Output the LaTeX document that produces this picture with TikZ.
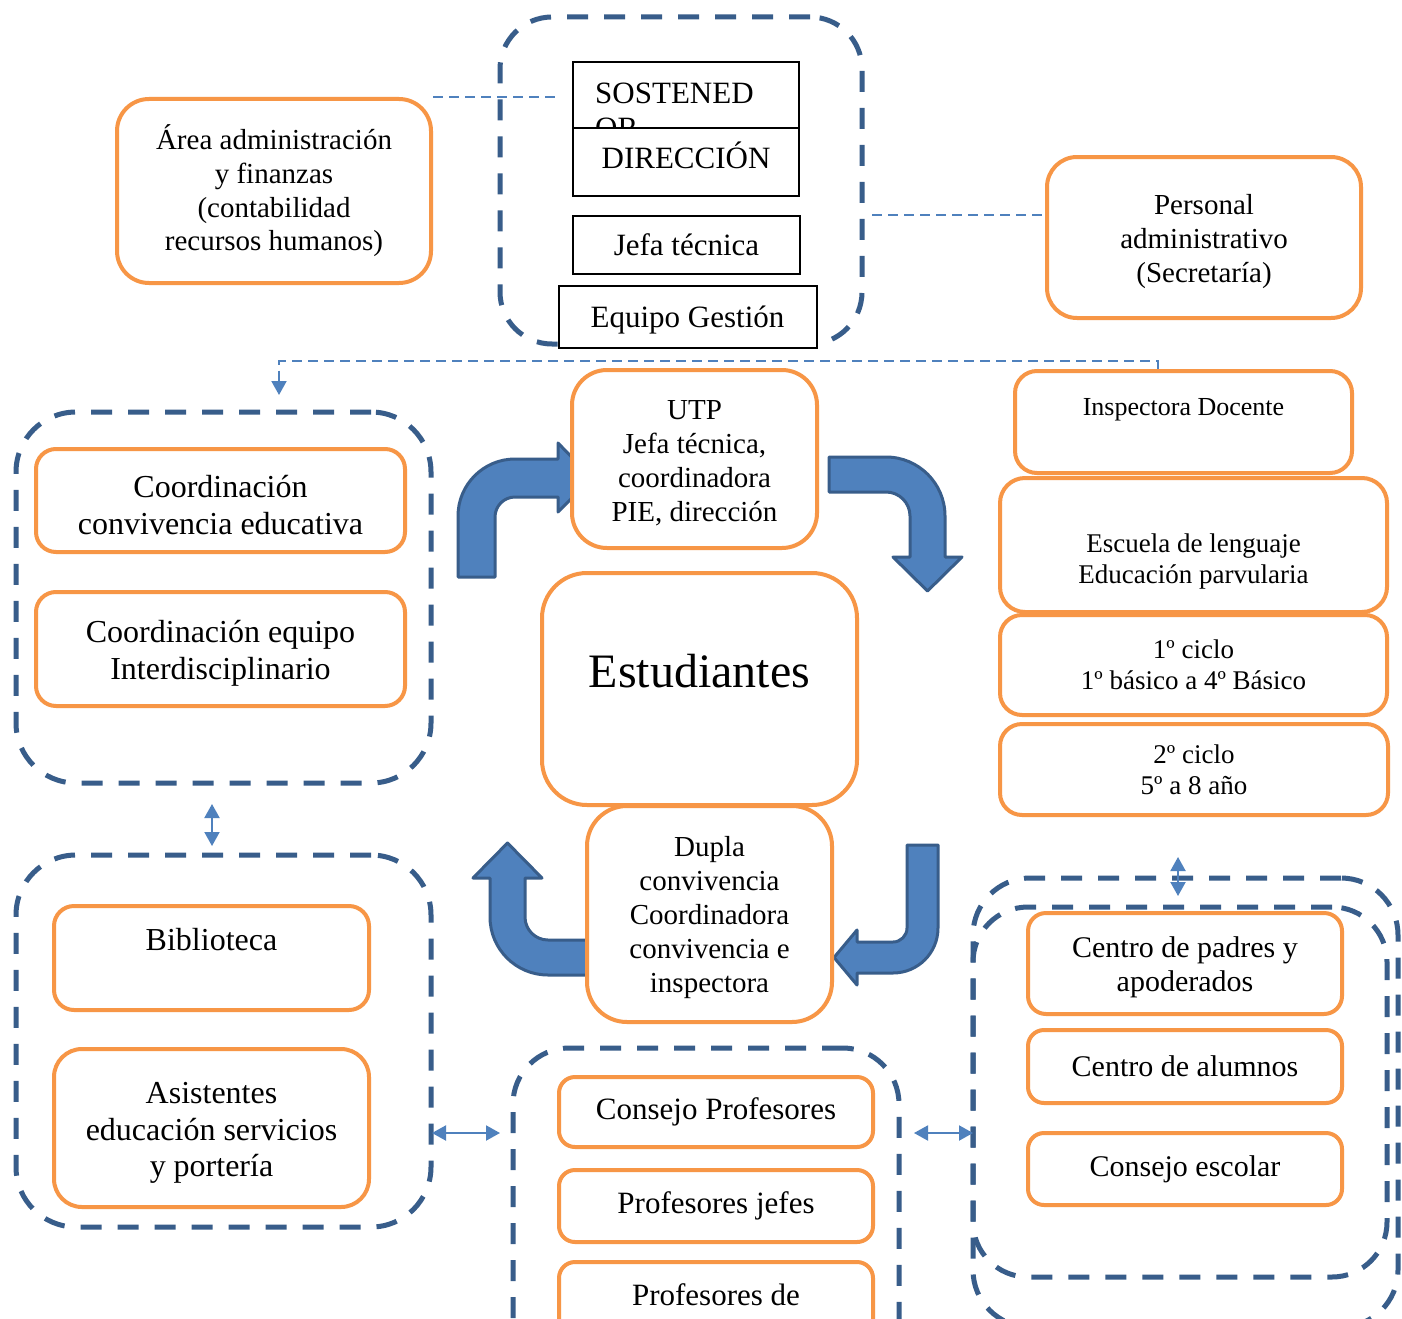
\documentclass[tikz,border=0pt]{standalone}
\usepackage{fontspec}
\setmainfont{Liberation Serif}
\usetikzlibrary{arrows.meta}

\definecolor{naranja}{HTML}{F79646}
\definecolor{azul}{HTML}{4F81BD}
\definecolor{azulosc}{HTML}{385D8A}
\newcommand\fsz[2]{\fontsize{#1}{#2}\selectfont}
\newcommand\sube{\rule{0pt}{0.97em}}

\tikzset{
  caja/.style={draw=naranja, line width=4pt, fill=white, rounded corners=#1, align=center, inner sep=0pt},
  cajanegra/.style={draw=black, line width=2pt, fill=white, inner sep=0pt},
  grupo/.style={draw=azulosc, line width=5pt, dash pattern=on 21pt off 16pt, rounded corners=#1, inner sep=0pt, outer sep=0pt},
  enlace/.style={draw=azul, line width=2pt, dash pattern=on 10pt off 6pt},
  doble/.style={draw=azul, line width=2pt, {Triangle[width=15pt,length=14pt]}-{Triangle[width=15pt,length=14pt]}},
  flecha/.style={fill=azul, draw=azulosc, line width=3pt, line join=round},
  tam/.style 2 args={minimum width=#1pt, minimum height=#2pt}
}

\begin{document}
\begin{tikzpicture}[x=1pt, y=-1pt]
  \useasboundingbox (0,0) rectangle (1402,1319);
  \clip (0,0) rectangle (1402,1319);
  \fill[white] (0,0) rectangle (1402,1319);

  % Recuadros discontinuos
  \node[grupo=52pt, tam={362}{327}] (cont0) at (681,180.5) {};
  \node[grupo=60pt, tam={415}{371}] (cont1) at (223.5,597.5) {};
  \node[grupo=60pt, tam={415}{372}] (cont2) at (223.5,1041) {};
  \node[grupo=56pt, tam={386}{352}] (cont3) at (706,1224) {};
  \node[grupo=57pt, tam={425}{449}] (cont4o) at (1185.5,1102.5) {};
  \node[grupo=55pt, tam={414}{370}] (cont4i) at (1180,1092) {};

  % Direccion (cajas negras)
  \node[cajanegra, tam={226}{66}] (sost) at (686,95) {};
  \node[anchor=north west, align=left, inner sep=0pt, font=\fsz{31}{35.6}] (sosttxt) at (595,82.5) {SOSTENED\\OR};
  \node[cajanegra, tam={226}{68}, font=\fsz{31}{35.6}, text height=26pt, text depth=14pt] (dir) at (686,162) {DIRECCIÓN};
  \node[cajanegra, tam={227}{58}, font=\fsz{31}{35.6}] (jefa) at (686.5,245) {Jefa técnica};
  \node[cajanegra, tam={258}{62}, font=\fsz{31}{35.6}, text height=24pt, text depth=4pt] (equipo) at (687.5,317) {Equipo Gestión};

  % Cajas laterales de arriba
  \node[caja=32pt, tam={314}{184}, font=\fsz{29}{33.6}] (area) at (274,191) {Área administración\\y finanzas\\(contabilidad\\recursos humanos)};
  \node[caja=30pt, tam={314}{161}, font=\fsz{29}{33.6}] (personal) at (1204,237.5) {\sube Personal\\administrativo\\(Secretaría)};

  % Lineas punteadas
  \draw[enlace] (area.north east) -- ([xshift=-14pt]sost.west |- area.north east);
  \draw[enlace] ([xshift=10pt]cont0.east |- jefa.north) -- (personal.west |- jefa.north);

  % Flechas curvas
  \draw[flecha] (458,577) -- (458,516) arc[start angle=180, end angle=90, radius=57pt]
    -- (558,459) -- (558,443) -- (592,478) -- (558,512) -- (558,497) -- (515,497)
    arc[start angle=90, end angle=180, radius=20pt] -- (495,577) -- cycle;
  \draw[flecha] (829,457) -- (886,457) arc[start angle=90, end angle=0, radius=59pt]
    -- (945,557) -- (962,557) -- (927.5,591) -- (893,557) -- (910,557) -- (910,516)
    arc[start angle=0, end angle=90, radius=24pt] -- (829,492) -- cycle;
  \draw[flecha] (600,975) -- (548,975) arc[start angle=270, end angle=180, radius=58pt]
    -- (490,878) -- (473,878) -- (507.5,843) -- (542,878) -- (525,878) -- (525,917)
    arc[start angle=180, end angle=270, radius=23pt] -- (600,940) -- cycle;
  \draw[flecha] (907,845) -- (938,845) -- (938,928) arc[start angle=0, end angle=-90, radius=45pt]
    -- (857,973) -- (857,985) -- (834,957.5) -- (857,930) -- (857,942) -- (893,942)
    arc[start angle=-90, end angle=0, radius=14pt] -- cycle;

  % Centro
  \node[caja=35pt, tam={245}{178}, font=\fsz{29}{34}] (utp) at (694.5,459) {\sube UTP\\Jefa técnica,\\coordinadora\\PIE, dirección};
  \node[caja=45pt, tam={315}{232}, font=\fsz{48}{55}, text height=34pt, text depth=38pt] (estud) at (699.5,689) {Estudiantes};
  \node[caja=40pt, tam={245}{216}, font=\fsz{29}{34}] (dupla) at (709.5,914) {\sube Dupla\\convivencia\\Coordinadora\\convivencia e\\inspectora};

  % Izquierda
  \node[caja=20pt, tam={369}{103}, font=\fsz{32}{36.8}] (coordconv) at (220.5,500.5) {\sube Coordinación\\convivencia educativa};
  \node[caja=20pt, tam={369}{114}, font=\fsz{32}{36.8}] (coordeq) at (220.5,649) {\sube Coordinación equipo\\Interdisciplinario};
  \node[caja=20pt, tam={315}{104}, font=\fsz{32}{36.8}] (biblio) at (211.5,958) {Biblioteca\\\mbox{}};
  \node[caja=28pt, tam={315}{158}, font=\fsz{32}{36.8}] (asist) at (211.5,1128) {\sube Asistentes\\educación servicios\\y portería};

  % Derecha
  \node[caja=22pt, tam={337}{102}, font=\fsz{26}{30}] (insp) at (1183.5,422) {Inspectora Docente\\\mbox{}};
  \node[caja=25pt, tam={387}{134}, font=\fsz{27}{31}] (escuela) at (1193.5,545) {\strut\\Escuela de lenguaje\\Educación parvularia};
  \node[caja=22pt, tam={387}{100}, font=\fsz{27}{31}] (ciclo1) at (1193.5,665) {1º ciclo\\1º básico a 4º Básico};
  \node[caja=22pt, tam={388}{91}, font=\fsz{27}{31}] (ciclo2) at (1194,769.5) {2º ciclo\\5º a 8 año};

  % Abajo
  \node[caja=16pt, tam={314}{70}, font=\fsz{31}{35.6}] (consprof) at (716,1112) {Consejo Profesores};
  \node[caja=16pt, tam={314}{72}, font=\fsz{31}{35.6}] (profjef) at (716,1206) {Profesores jefes};
  \node[caja=16pt, tam={314}{100}, font=\fsz{31}{35.6}] (profde) at (716,1312) {Profesores de\\\mbox{}};
  \node[caja=18pt, tam={314}{101}, font=\fsz{30}{34}] (cpadres) at (1185,963.5) {\sube Centro de padres y\\apoderados};
  \node[caja=16pt, tam={314}{73}, font=\fsz{30}{34}] (calum) at (1185,1066.5) {Centro de alumnos};
  \node[caja=16pt, tam={314}{72}, font=\fsz{30}{34}] (cescolar) at (1185,1169) {Consejo escolar};

  % Linea punteada hacia el grupo izquierdo
  \coordinate (bus) at (279,361);
  \draw[enlace, -{Triangle[width=15pt,length=14pt]}] ([xshift=-26pt]insp.north) |- (bus)
    -- ([yshift=17pt]cont1.north -| bus);

  % Flechas dobles
  \coordinate (fila) at (0,1133);
  \draw[doble] ([shift={(-11.5,21)}]cont1.south) -- ([shift={(-11.5,-9)}]cont2.north);
  \draw[doble] ([xshift=1pt]cont2.east |- fila) -- ([xshift=-13pt]cont3.west |- fila);
  \draw[doble] ([xshift=15pt]cont3.east |- fila) -- (cont4o.west |- fila);
  \draw[doble] ([shift={(-7.5,-21)}]cont4o.north) -- ([shift={(-2,-11)}]cont4i.north);
\end{tikzpicture}
\end{document}
